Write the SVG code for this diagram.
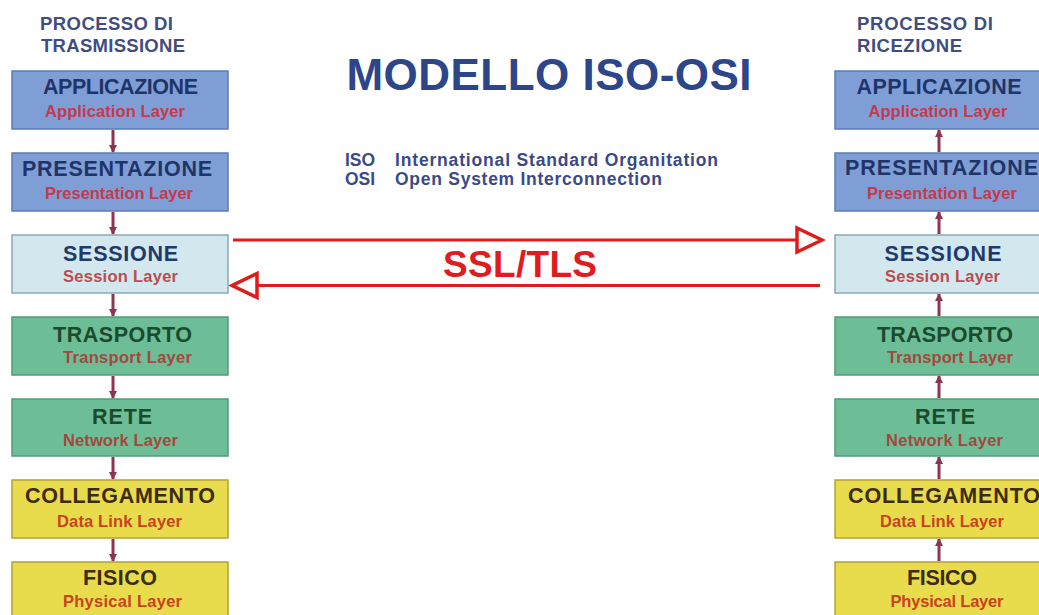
<svg xmlns="http://www.w3.org/2000/svg" width="1039" height="615" viewBox="0 0 1039 615">
<style>
  text { font-family: "Liberation Sans", Arial, sans-serif; font-weight: bold; }
  .hdr { font-size: 18.5px; fill: #3f4d7f; }
  .title { font-size: 44px; fill: #2c4689; }
  .iso { font-size: 17.5px; fill: #3b4a85; }
  .ssl { font-size: 37px; fill: #e01c1e; }
  .main { font-size: 21.5px; text-anchor: middle; }
  .sub { font-size: 16.5px; text-anchor: middle; }
  .blue rect { fill: #7f9ed6; stroke: #5a7db4; stroke-width: 1.5; }
  .blue .main { fill: #1f3467; }
  .blue .sub { fill: #c43a4c; }
  .lblue rect { fill: #d3e7ee; stroke: #8aa9b8; stroke-width: 1.5; }
  .lblue .main { fill: #203a6a; }
  .lblue .sub { fill: #bb4d4f; }
  .green rect { fill: #6dbe96; stroke: #4f9c78; stroke-width: 1.5; }
  .green .main { fill: #1c4a2d; }
  .green .sub { fill: #a5473f; }
  .yellow rect { fill: #e8db4c; stroke: #b3a335; stroke-width: 1.5; }
  .yellow .main { fill: #3e2b12; }
  .yellow .sub { fill: #c9431f; }
  .link { stroke: #8b3552; stroke-width: 3; fill: none; }
  .tls { stroke: #dd1c1c; stroke-width: 3; fill: none; }
</style>
<defs>
  <marker id="mArrow" viewBox="0 0 8 8" refX="7" refY="4" markerWidth="8" markerHeight="8" markerUnits="userSpaceOnUse" orient="auto">
    <path d="M0,0 L8,4 L0,8 Z" fill="#8b3552"/>
  </marker>
  <marker id="tlsHead" viewBox="-3 -3 32 30" refX="25" refY="12" markerWidth="32" markerHeight="30" markerUnits="userSpaceOnUse" orient="auto">
    <path d="M0,0 L25,12 L0,24 Z" fill="#ffffff" stroke="#dd1c1c" stroke-width="3.5" stroke-linejoin="miter"/>
  </marker>
</defs>
<rect width="1039" height="615" fill="#ffffff"/>

<text class="hdr" x="40" y="30" textLength="133">PROCESSO DI</text>
<text class="hdr" x="41" y="52" textLength="144">TRASMISSIONE</text>
<text class="hdr" x="857" y="30" textLength="136">PROCESSO DI</text>
<text class="hdr" x="857" y="52" textLength="105">RICEZIONE</text>

<text class="title" x="549" y="90" text-anchor="middle" textLength="405">MODELLO ISO-OSI</text>
<text class="iso" x="345" y="166">ISO</text>
<text class="iso" x="395" y="166" textLength="323">International Standard Organitation</text>
<text class="iso" x="345" y="185">OSI</text>
<text class="iso" x="395" y="185" textLength="267">Open System Interconnection</text>

<g id="connectors">
  <line class="link" x1="113" y1="130" x2="113" y2="152" marker-end="url(#mArrow)"/>
  <line class="link" x1="113" y1="212" x2="113" y2="234" marker-end="url(#mArrow)"/>
  <line class="link" x1="113" y1="294" x2="113" y2="316" marker-end="url(#mArrow)"/>
  <line class="link" x1="113" y1="376" x2="113" y2="398" marker-end="url(#mArrow)"/>
  <line class="link" x1="113" y1="457" x2="113" y2="479" marker-end="url(#mArrow)"/>
  <line class="link" x1="113" y1="539" x2="113" y2="561" marker-end="url(#mArrow)"/>
  <line class="link" x1="939" y1="152" x2="939" y2="130" marker-end="url(#mArrow)"/>
  <line class="link" x1="939" y1="234" x2="939" y2="212" marker-end="url(#mArrow)"/>
  <line class="link" x1="939" y1="316" x2="939" y2="294" marker-end="url(#mArrow)"/>
  <line class="link" x1="939" y1="398" x2="939" y2="376" marker-end="url(#mArrow)"/>
  <line class="link" x1="939" y1="479" x2="939" y2="457" marker-end="url(#mArrow)"/>
  <line class="link" x1="939" y1="561" x2="939" y2="539" marker-end="url(#mArrow)"/>
  <line class="tls" x1="233" y1="240" x2="822" y2="240" marker-end="url(#tlsHead)"/>
  <line class="tls" x1="820" y1="285.5" x2="232" y2="285.5" marker-end="url(#tlsHead)"/>
</g>
<text class="ssl" x="520" y="277" text-anchor="middle" textLength="154">SSL/TLS</text>

<g id="tx-app" class="blue">
  <rect x="12" y="71" width="216" height="58"/>
  <text class="main" x="120.5" y="94" textLength="155">APPLICAZIONE</text>
  <text class="sub" x="115" y="117" textLength="140">Application Layer</text>
</g>
<g id="tx-pres" class="blue">
  <rect x="12" y="153" width="216" height="58"/>
  <text class="main" x="117" y="176" textLength="190">PRESENTAZIONE</text>
  <text class="sub" x="119" y="199" textLength="148">Presentation Layer</text>
</g>
<g id="tx-sess" class="lblue">
  <rect x="12" y="235" width="216" height="58"/>
  <text class="main" x="120.5" y="261" textLength="115">SESSIONE</text>
  <text class="sub" x="120.5" y="282" textLength="115">Session Layer</text>
</g>
<g id="tx-trasp" class="green">
  <rect x="12" y="317" width="216" height="58"/>
  <text class="main" x="122.5" y="342" textLength="139">TRASPORTO</text>
  <text class="sub" x="127.5" y="363" textLength="129">Transport Layer</text>
</g>
<g id="tx-rete" class="green">
  <rect x="12" y="399" width="216" height="57"/>
  <text class="main" x="122" y="424" textLength="60">RETE</text>
  <text class="sub" x="120.5" y="446" textLength="115">Network Layer</text>
</g>
<g id="tx-coll" class="yellow">
  <rect x="12" y="480" width="216" height="58"/>
  <text class="main" x="120" y="503" textLength="190">COLLEGAMENTO</text>
  <text class="sub" x="119.5" y="527" textLength="125">Data Link Layer</text>
</g>
<g id="tx-fis" class="yellow">
  <rect x="12" y="562" width="216" height="60"/>
  <text class="main" x="120" y="585" textLength="74">FISICO</text>
  <text class="sub" x="122.5" y="607" textLength="119">Physical Layer</text>
</g>

<g id="rx-app" class="blue">
  <rect x="835" y="71" width="214" height="58"/>
  <text class="main" x="939" y="94" textLength="165">APPLICAZIONE</text>
  <text class="sub" x="938" y="117" textLength="139">Application Layer</text>
</g>
<g id="rx-pres" class="blue">
  <rect x="835" y="153" width="214" height="58"/>
  <text class="main" x="941.5" y="175" textLength="193">PRESENTAZIONE</text>
  <text class="sub" x="942" y="199" textLength="150">Presentation Layer</text>
</g>
<g id="rx-sess" class="lblue">
  <rect x="835" y="235" width="214" height="58"/>
  <text class="main" x="943" y="261" textLength="117">SESSIONE</text>
  <text class="sub" x="942.5" y="282" textLength="115">Session Layer</text>
</g>
<g id="rx-trasp" class="green">
  <rect x="835" y="317" width="214" height="58"/>
  <text class="main" x="945" y="342" textLength="136">TRASPORTO</text>
  <text class="sub" x="950" y="363" textLength="126">Transport Layer</text>
</g>
<g id="rx-rete" class="green">
  <rect x="835" y="399" width="214" height="57"/>
  <text class="main" x="945" y="424" textLength="60">RETE</text>
  <text class="sub" x="944.5" y="446" textLength="117">Network Layer</text>
</g>
<g id="rx-coll" class="yellow">
  <rect x="835" y="480" width="214" height="58"/>
  <text class="main" x="944" y="503" textLength="192">COLLEGAMENTO</text>
  <text class="sub" x="942" y="527" textLength="124">Data Link Layer</text>
</g>
<g id="rx-fis" class="yellow">
  <rect x="835" y="562" width="214" height="60"/>
  <text class="main" x="942" y="585" textLength="70">FISICO</text>
  <text class="sub" x="947" y="607" textLength="113">Physical Layer</text>
</g>
</svg>
